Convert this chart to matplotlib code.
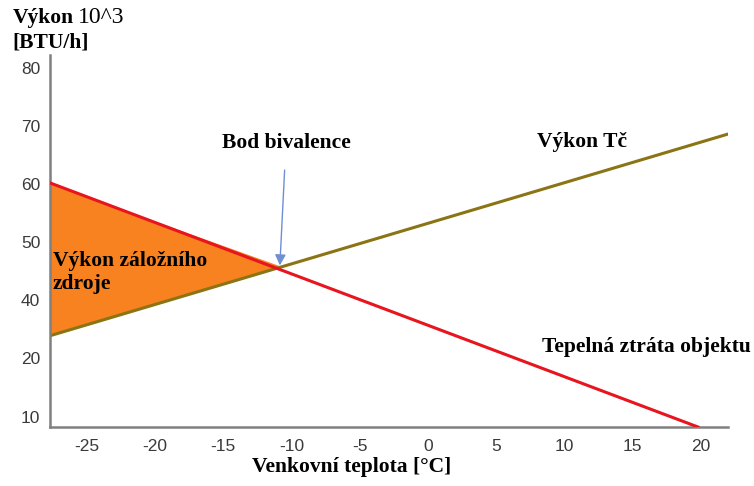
import matplotlib.pyplot as plt
import numpy as np

# popisky na ose y nejsou rovnomerne (chybi 30) -> po castech linearni meritko
y_urovne = [0, 10, 20, 40, 50, 60, 70, 80, 90]
y_pozice = [-1, 0, 1, 2, 3, 4, 5, 6, 7]
y_ticks = [10, 20, 40, 50, 60, 70, 80]
x_ticks = [-25, -20, -15, -10, -5, 0, 5, 10, 15, 20]

# tepelna ztrata objektu (cervena)
ztrata_t = [-27.7, 19.8]
ztrata_v = [60.2, 8.2]
# vykon tepelneho cerpadla
tc_t = [-27.7, 22.0]
tc_v = [27.8, 68.6]
# bod bivalence
bod = (-10.8, 45.7)


def forward(v):
    return np.interp(v, y_urovne, y_pozice)


def inverse(p):
    return np.interp(p, y_pozice, y_urovne)


fig = plt.figure(figsize=(7.54, 4.86), dpi=100)
ax = fig.add_axes([0.0663, 0.1214, 0.8992, 0.7654])
ax.set_yscale('function', functions=(forward, inverse))
ax.set_xlim(-27.7, 22.0)
ax.set_ylim(8.2, 82.2)

# plocha zalozniho zdroje
ax.fill([ztrata_t[0], bod[0], tc_t[0]], [ztrata_v[0] - 0.3, bod[1], tc_v[0] + 0.3],
        color='#f7821f', zorder=1)
ax.plot(tc_t, tc_v, color='#8a7414', lw=2.2, zorder=2)
ax.plot(ztrata_t, ztrata_v, color='#e8141e', lw=2.2, zorder=3)

ax.annotate('', xy=(bod[0] - 0.05, bod[1] + 0.3), xytext=(-10.5, 62.4),
            arrowprops=dict(arrowstyle='-|>', color='#6f8fd2', lw=1.0,
                            mutation_scale=16, shrinkA=0, shrinkB=0),
            zorder=4)

serif = {'family': 'Liberation Serif', 'weight': 'bold', 'size': 15.5}
ax.text(-10.4, 67.1, 'Bod bivalence', ha='center', va='center', fontdict=serif)
ax.text(11.3, 67.2, 'Výkon Tč', ha='center', va='center', fontdict=serif)
ax.text(-27.5, 44.7, 'Výkon záložního\nzdroje', ha='left', va='center',
        linespacing=1.2, fontdict=serif, zorder=5)
ax.text(8.4, 24.0, 'Tepelná ztráta objektu', ha='left', va='center',
        fontdict=serif, clip_on=False)

ax.set_xticks(x_ticks)
ax.set_xticklabels([str(t) for t in x_ticks])
ax.set_yticks(y_ticks)
ax.set_yticklabels([str(t) for t in y_ticks])
ax.tick_params(length=0, labelsize=12.5, labelcolor='#3a3a3a')
for lab in ax.get_xticklabels() + ax.get_yticklabels():
    lab.set_family('Liberation Sans')
ax.tick_params(axis='y', pad=7)
ax.tick_params(axis='x', pad=9)

for s in ['top', 'right']:
    ax.spines[s].set_visible(False)
for s in ['left', 'bottom']:
    ax.spines[s].set_color('#808080')
    ax.spines[s].set_linewidth(1.8)

fig.text(0.467, 0.039, 'Venkovní teplota [°C]', ha='center', va='center',
         fontdict=serif)
fig.text(0.017, 0.963, 'Výkon', ha='left', va='center', fontdict=serif)
fig.text(0.104, 0.963, '10^3', ha='left', va='center',
         family='Liberation Serif', size=17)
fig.text(0.017, 0.912, '[BTU/h]', ha='left', va='center', fontdict=serif)

plt.savefig('out.png', dpi=100)
